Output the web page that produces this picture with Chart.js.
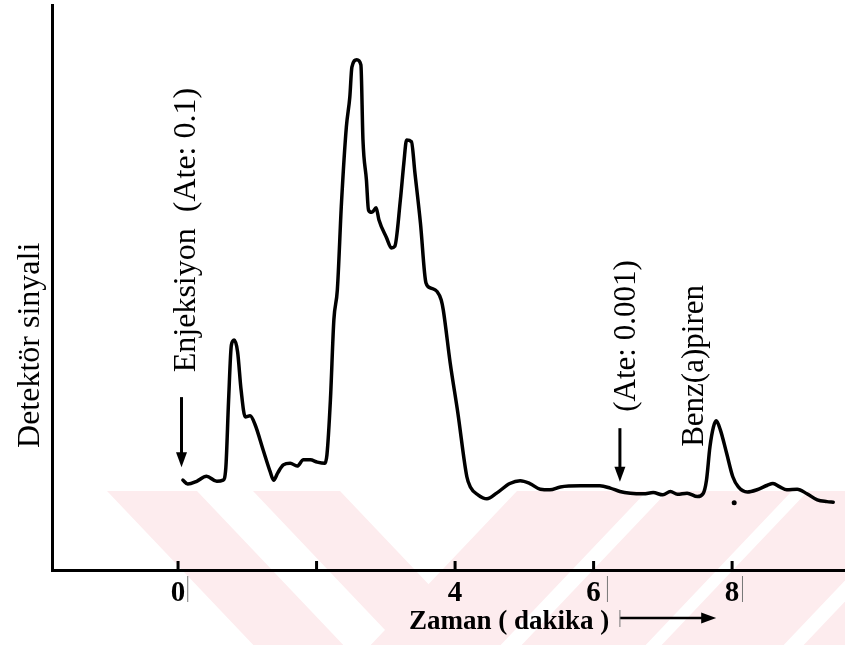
<!DOCTYPE html>
<html>
<head>
<meta charset="utf-8">
<script src="https://cdn.jsdelivr.net/npm/chart.js@4.4.0/dist/chart.umd.min.js"></script>
<style>
html,body{margin:0;padding:0;background:#fff;}
#wrap{width:845px;height:645px;position:relative;}
</style>
</head>
<body>
<div id="wrap"><canvas id="c" width="845" height="645"></canvas></div>
<script>
// ---- data ----
const timeMin = [0.07,0.14,0.27,0.41,0.56,0.65,0.69,0.73,0.77,0.81,0.86,0.91,0.97,1.04,1.11,1.23,1.33,1.38,1.44,1.52,1.62,1.72,1.81,1.91,2.01,2.12,2.15,2.20,2.25,2.30,2.36,2.43,2.48,2.51,2.58,2.64,2.67,2.72,2.75,2.80,2.86,2.90,3.01,3.08,3.13,3.21,3.26,3.30,3.37,3.42,3.50,3.58,3.65,3.74,3.80,3.83,3.93,4.04,4.17,4.22,4.33,4.46,4.60,4.79,4.94,5.08,5.23,5.37,5.52,5.81,6.09,6.24,6.38,6.53,6.72,6.86,7.00,7.11,7.21,7.35,7.50,7.58,7.63,7.68,7.73,7.77,7.83,7.92,8.01,8.09,8.22,8.36,8.51,8.59,8.69,8.79,8.94,9.08,9.23,9.37,9.46];
const signal  = [15.9,15.2,15.7,16.6,15.7,15.9,18.1,30.1,39.8,40.7,38.6,31.9,27.1,27.3,25.8,21.2,17.4,15.9,17.2,18.6,18.9,18.4,19.5,19.5,19.1,18.9,20.4,30.1,44.3,49.6,65.0,78.4,83.7,89.0,90.3,89.4,76.1,69.0,63.7,63.3,64.1,62.0,58.8,57.0,57.3,65.5,72.0,76.1,75.8,70.3,61.4,50.8,49.9,49.3,47.8,46.0,36.6,27.8,16.5,14.7,13.3,12.6,13.6,15.3,15.8,15.3,14.3,14.2,14.7,14.9,14.9,14.5,13.9,13.6,13.5,13.7,13.3,13.9,13.4,13.6,13.0,13.5,15.9,21.8,25.3,26.4,24.8,20.7,16.5,14.7,13.8,14.2,15.0,15.3,14.7,14.2,14.3,13.5,12.4,12.1,12.0];
const xTickValues = [0, 2, 4, 6, 8];
const xTickLabels = ['0', '', '4', '6', '8'];
const xMin = -1.82, xMax = 9.63;
const yMin = 0, yMax = 100;
const yTitle = 'Detektör sinyali';
const xTitle = 'Zaman ( dakika )';
const injectionLabel = 'Enjeksiyon  (Ate: 0.1)';
const attenLabel = '(Ate: 0.001)';
const peakLabel = 'Benz(a)piren';

const SERIF = '"Liberation Serif","Times New Roman",serif';

const watermark = {
  id: 'watermark',
  beforeDraw(chart) {
    const ctx = chart.ctx;
    const top = 491, bot = 645, h = bot - top, k = 0.95;
    ctx.save();
    ctx.beginPath(); ctx.rect(0, top, 845, h); ctx.clip();
    ctx.fillStyle = '#fdecee';
    const back = [[107,197],[253,340]];
    back.forEach(([a,b]) => {
      ctx.beginPath();
      ctx.moveTo(a, top); ctx.lineTo(b, top); ctx.lineTo(b + k*h, bot); ctx.lineTo(a + k*h, bot); ctx.closePath(); ctx.fill();
    });
    const fwd = [[517,647],[668,792],[808,930],[950,1075]];
    fwd.forEach(([a,b]) => {
      ctx.beginPath();
      ctx.moveTo(a, top); ctx.lineTo(b, top); ctx.lineTo(b - k*h, bot); ctx.lineTo(a - k*h, bot); ctx.closePath(); ctx.fill();
    });
    ctx.restore();
  }
};

function arrowDown(ctx, x, y1, y2) {
  ctx.beginPath(); ctx.moveTo(x, y1); ctx.lineTo(x, y2 - 10); ctx.stroke();
  ctx.beginPath(); ctx.moveTo(x - 5.5, y2 - 15); ctx.lineTo(x + 5.5, y2 - 15); ctx.lineTo(x, y2); ctx.closePath(); ctx.fill();
}
function vText(ctx, text, x, y, font) {
  ctx.save();
  ctx.translate(x, y); ctx.rotate(-Math.PI / 2);
  ctx.font = font; ctx.textAlign = 'left'; ctx.textBaseline = 'alphabetic';
  ctx.fillText(text, 0, 0);
  ctx.restore();
}

const decorations = {
  id: 'decorations',
  afterDraw(chart) {
    const ctx = chart.ctx, xs = chart.scales.x, ys = chart.scales.y, area = chart.chartArea;
    ctx.save();
    ctx.strokeStyle = '#000'; ctx.fillStyle = '#000';
    // upward tick marks
    ctx.lineWidth = 3;
    xTickValues.forEach(v => {
      const px = xs.getPixelForValue(v);
      ctx.beginPath(); ctx.moveTo(px, area.bottom); ctx.lineTo(px, area.bottom - 9); ctx.stroke();
    });
    // axis titles
    vText(ctx, yTitle, area.left - 13, ys.getPixelForValue(21.6), '32px ' + SERIF);
    ctx.font = 'bold 27px ' + SERIF; ctx.textAlign = 'center'; ctx.textBaseline = 'middle';
    ctx.fillText(xTitle, xs.getPixelForValue(4.78), area.bottom + 52);
    // time arrow
    const ay = area.bottom + 48, ax1 = xs.getPixelForValue(6.38), ax2 = xs.getPixelForValue(7.77);
    ctx.lineWidth = 2.5;
    ctx.beginPath(); ctx.moveTo(ax1, ay); ctx.lineTo(ax2 - 10, ay); ctx.stroke();
    ctx.beginPath(); ctx.moveTo(ax2 - 15, ay - 5.5); ctx.lineTo(ax2, ay); ctx.lineTo(ax2 - 15, ay + 5.5); ctx.closePath(); ctx.fill();
    ctx.lineWidth = 1; ctx.strokeStyle = '#777';
    ctx.beginPath(); ctx.moveTo(ax1, ay - 8); ctx.lineTo(ax1, ay + 9); ctx.stroke();
    // faint scan marks beside labels
    [0.14, 6.2, 8.15].forEach(t => {
      const px = xs.getPixelForValue(t);
      ctx.beginPath(); ctx.moveTo(px, area.bottom + 6); ctx.lineTo(px, area.bottom + 32); ctx.stroke();
    });
    ctx.strokeStyle = '#000';
    // annotations
    ctx.lineWidth = 3;
    arrowDown(ctx, xs.getPixelForValue(0.05), ys.getPixelForValue(30.6), ys.getPixelForValue(18.2));
    arrowDown(ctx, xs.getPixelForValue(6.38), ys.getPixelForValue(25.1), ys.getPixelForValue(15.6));
    vText(ctx, injectionLabel, xs.getPixelForValue(0.245), ys.getPixelForValue(35.0), '32px ' + SERIF);
    vText(ctx, attenLabel, xs.getPixelForValue(6.60), ys.getPixelForValue(28.0), '31px ' + SERIF);
    vText(ctx, peakLabel, xs.getPixelForValue(7.58), ys.getPixelForValue(21.8), '31px ' + SERIF);
    // stray dot
    ctx.beginPath(); ctx.arc(xs.getPixelForValue(8.03), ys.getPixelForValue(11.9), 2.5, 0, Math.PI * 2); ctx.fill();
    ctx.restore();
  }
};

new Chart(document.getElementById('c'), {
  type: 'line',
  data: {
    datasets: [{
      data: timeMin.map((t, i) => ({ x: t, y: signal[i] })),
      borderColor: '#000',
      borderWidth: 3.5,
      pointRadius: 0,
      cubicInterpolationMode: 'monotone',
      borderJoinStyle: 'round',
      borderCapStyle: 'round',
      fill: false
    }]
  },
  options: {
    responsive: false,
    animation: false,
    layout: { padding: { top: 5, right: 0, left: 0, bottom: 0 } },
    plugins: { legend: { display: false }, tooltip: { enabled: false } },
    scales: {
      x: {
        type: 'linear', min: xMin, max: xMax, position: 'bottom',
        afterFit(s) { s.height = 75; },
        afterBuildTicks(s) { s.ticks = xTickValues.map(v => ({ value: v })); },
        grid: { display: false, drawTicks: false },
        border: { display: true, color: '#000', width: 3 },
        ticks: {
          autoSkip: false, maxRotation: 0, padding: 6, color: '#000',
          font: { family: SERIF, size: 29, weight: 'bold' },
          callback: (v) => { const i = xTickValues.indexOf(v); return i >= 0 ? xTickLabels[i] : ''; }
        }
      },
      y: {
        type: 'linear', min: yMin, max: yMax,
        afterFit(s) { s.width = 52; },
        grid: { display: false, drawTicks: false },
        border: { display: true, color: '#000', width: 3 },
        ticks: { display: false }
      }
    }
  },
  plugins: [watermark, decorations]
});
</script>
</body>
</html>
